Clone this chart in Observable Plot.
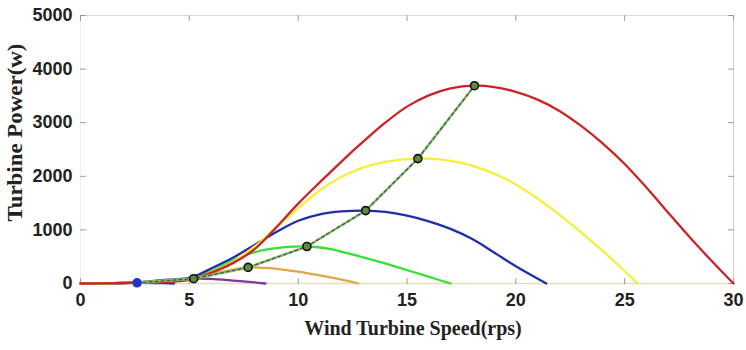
<!DOCTYPE html>
<html><head><meta charset="utf-8">
<script src="https://cdn.jsdelivr.net/npm/d3@7"></script>
<script src="https://cdn.jsdelivr.net/npm/@observablehq/plot@0.6"></script>
<style>body{margin:0;background:#fff}</style>
</head><body><div id="chart"></div>
<script>
const xTicks = [0, 5, 10, 15, 20, 25, 30];
const yTicks = [0, 1000, 2000, 3000, 4000, 5000];

// [speed (rps), power (W)], one array per wind-speed curve
const curveLowest = [[0,0],[1.5,8],[2.6,12],[3.5,8],[4.3,0]];
const curvePurple = [[0,0],[2.5,20],[4,70],[5.2,90],[6,85],[7,55],[8,20],[8.5,0]];
const curveOrange = [[0,0],[2.5,15],[5,90],[6,180],[7,260],[7.7,300],[8.5,290],[9.2,265],[10,220],[11,150],[12,70],[12.75,0]];
const curveGreen  = [[0,0],[2.5,18],[5,110],[6,230],[7,430],[7.8,560],[8.8,650],[10.4,690],[11.5,640],[12.3,560],[13.5,430],[14.6,300],[15.8,150],[17,0]];
const curveBlue   = [[0,0],[2.5,18],[5,100],[6,280],[7,480],[8,720],[9,960],[10,1170],[11,1290],[12,1345],[13.1,1360],[14,1335],[15,1265],[16,1160],[17,1020],[18,830],[19,580],[20,320],[21.4,0]];
const curveYellow = [[0,0],[2.5,15],[5,75],[6,210],[7,400],[8,690],[9,1050],[10,1400],[11,1740],[12,1990],[13,2165],[14,2270],[15.4,2330],[16.5,2315],[17.5,2250],[18.5,2130],[19.5,1960],[20.5,1720],[21.5,1440],[22.5,1120],[23.5,780],[24.5,420],[25.6,0]];
const curveRed    = [[0,0],[2.5,15],[5,70],[6,200],[7,380],[8,640],[9,1050],[10,1490],[11,1890],[12,2280],[13,2650],[14,3000],[15,3300],[16,3510],[17,3640],[18.1,3690],[19,3665],[20,3575],[21,3430],[22,3220],[23,2940],[24,2610],[25,2230],[26,1790],[27,1320],[28,860],[29,420],[30,0]];

// maximum power points
const mpptSpeed = [2.6, 5.2, 7.7, 10.4, 13.1, 15.5, 18.1];
const mpptPower = [12, 90, 300, 690, 1360, 2330, 3690];

const curveNames = ["lowest","purple","orange","green","blue","yellow","red"];
const curveData = [curveLowest, curvePurple, curveOrange, curveGreen, curveBlue, curveYellow, curveRed];
const curveColors = ["#2a3cb0","#7a3aa0","#e0a646","#35e035","#1f2fa6","#f6ee3c","#cc2228"];

const rows = curveNames.flatMap((n, i) => curveData[i].map(([x, y]) => ({curve: n, x, y})));
const mppt = mpptSpeed.map((x, i) => ({x, y: mpptPower[i], first: i === 0}));

const tickShape = {draw(ctx, l) { ctx.moveTo(0, 0); ctx.lineTo(0, -l); }};
const tickStyle = {length: 5, anchor: "start", shape: tickShape, stroke: "#999", strokeWidth: 1};

const curveMarks = curveNames.map((n, i) =>
  Plot.line(rows.filter(d => d.curve === n), {x: "x", y: "y", stroke: curveColors[i], strokeWidth: 2.3, curve: "catmull-rom"})
);

const serif = "'Liberation Serif', 'Times New Roman', serif";

const plot = Plot.plot({
  width: 746, height: 350,
  marginLeft: 80, marginRight: 13, marginTop: 15, marginBottom: 67,
  x: {domain: [0, 30]},
  y: {domain: [0, 5000]},
  style: {fontFamily: "'Liberation Sans', Arial, sans-serif", background: "#fff", color: "#222"},
  marks: [
    Plot.ruleY([5000], {stroke: "#dcdcdc"}),
    Plot.ruleX([30], {stroke: "#cfcfcf"}),
    Plot.ruleX([0], {stroke: "#f0f0f0"}),
    Plot.ruleY([0], {stroke: "#e8dcbc", strokeWidth: 1.5}),
    Plot.vector(xTicks, {x: d => d, y: 0, rotate: 0, ...tickStyle}),
    Plot.vector(xTicks, {x: d => d, y: 5000, rotate: 180, ...tickStyle}),
    Plot.vector(yTicks, {x: 0, y: d => d, rotate: 90, ...tickStyle}),
    Plot.vector(yTicks, {x: 30, y: d => d, rotate: -90, ...tickStyle}),
    Plot.axisX(xTicks, {tickSize: 0, tickPadding: 10, fontSize: 18, fontWeight: "bold", label: null}),
    Plot.axisY(yTicks, {tickSize: 0, tickPadding: 8, fontSize: 18, fontWeight: "bold", label: null, tickFormat: "d"}),
    ...curveMarks,
    Plot.line(mppt, {x: "x", y: "y", stroke: "#8cc45c", strokeWidth: 2.5}),
    Plot.line(mppt, {x: "x", y: "y", stroke: "#44566e", strokeWidth: 1.3, strokeDasharray: "3,3"}),
    Plot.dot(mppt.filter(d => !d.first), {x: "x", y: "y", r: 4, fill: "#5f8a3a", stroke: "#111", strokeWidth: 1.6}),
    Plot.dot(mppt.filter(d => d.first), {x: "x", y: "y", r: 4, fill: "#2233cc", stroke: "#2233cc"}),
    Plot.text(["Wind Turbine Speed(rps)"], {frameAnchor: "bottom", textAnchor: "middle", dx: 6, dy: 45, lineAnchor: "middle", fontSize: 20, fontWeight: "bold", fontFamily: serif, fill: "#222"}),
    Plot.text(["Turbine Power(w)"], {frameAnchor: "left", textAnchor: "middle", rotate: -90, dx: -65, dy: -17, lineAnchor: "middle", fontSize: 20, fontWeight: "bold", fontFamily: serif, fill: "#222"})
  ]
});
d3.select(plot).selectAll("text")
  .filter(function() { return this.textContent === "Turbine Power(w)"; })
  .attr("textLength", 178).attr("lengthAdjust", "spacingAndGlyphs");
document.getElementById("chart").appendChild(plot);
</script>
</body></html>
